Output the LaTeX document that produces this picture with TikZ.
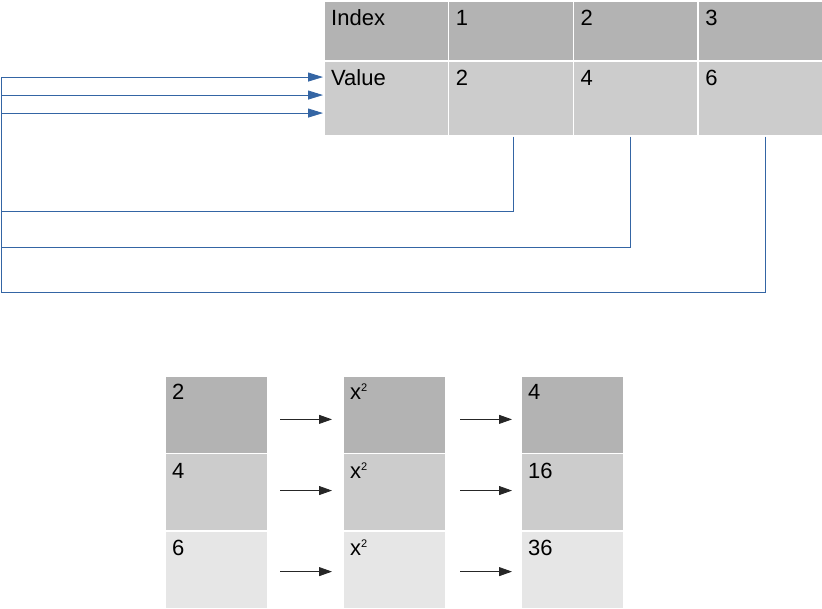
\documentclass[tikz,border=0pt]{standalone}
\usepackage{fontspec}
\setmainfont{Liberation Sans}
\usetikzlibrary{arrows.meta}
\definecolor{darkcell}{HTML}{B3B3B3}
\definecolor{midcell}{HTML}{CCCCCC}
\definecolor{lightcell}{HTML}{E6E6E6}
\definecolor{feedblue}{HTML}{3465A4}
\newcommand{\sqsup}{\textsuperscript{\fontsize{11}{11}\selectfont 2}}
\tikzset{
    cell/.style = {
        rectangle, fill=#1, draw=white, line width=1.5pt, anchor=north west, inner sep=0
    },
    idxrow/.style = {cell=darkcell, minimum width=124.75pt, minimum height=60pt},
    valrow/.style = {cell=midcell, minimum width=124.75pt, minimum height=75pt},
    stack/.style = {cell=#1, minimum width=102.5pt, minimum height=77.67pt},
    txt/.style = {anchor=base west, inner sep=0, font=\fontsize{22}{26}\selectfont},
    feed/.style = {draw=feedblue, line width=0.8pt},
    map/.style = {draw=black!85, line width=0.8pt, -{Triangle[length=13pt,width=9pt]}}
}

\begin{document}
\begin{tikzpicture}[x=1pt, y=-1pt]
    \useasboundingbox (0,0) rectangle (822,608);
    % table
    \node[idxrow] (idx0) at (323,0) {};
    \node[idxrow] (idx1) at (447.75,0) {};
    \node[idxrow] (idx2) at (572.5,0) {};
    \node[idxrow] (idx3) at (697.25,0) {};
    \node[valrow] (val0) at (323,60) {};
    \node[valrow] (val1) at (447.75,60) {};
    \node[valrow] (val2) at (572.5,60) {};
    \node[valrow] (val3) at (697.25,60) {};
    \node[txt] (tidx0) at ([shift={(8,25.5)}]idx0.north west) {Index};
    \node[txt] (tidx1) at ([shift={(8,25.5)}]idx1.north west) {1};
    \node[txt] (tidx2) at ([shift={(8,25.5)}]idx2.north west) {2};
    \node[txt] (tidx3) at ([shift={(8,25.5)}]idx3.north west) {3};
    \node[txt] (tval0) at ([shift={(8,25)}]val0.north west) {Value};
    \node[txt] (tval1) at ([shift={(8,25)}]val1.north west) {2};
    \node[txt] (tval2) at ([shift={(8,25)}]val2.north west) {4};
    \node[txt] (tval3) at ([shift={(8,25)}]val3.north west) {6};

    % values fed back
    \coordinate (back1) at (1,211);
    \coordinate (back2) at (1,247);
    \coordinate (back3) at (1,292);
    \draw[feed, -{Triangle[length=15pt,width=9pt]}] ([xshift=3pt]val1.south) |- (back1) |- ([yshift=21.2pt]val0.west);
    \draw[feed, -{Triangle[length=15pt,width=9pt]}] ([xshift=-5pt]val2.south) |- (back2) |- ([yshift=3.2pt]val0.west);
    \draw[feed, -{Triangle[length=15pt,width=9pt]}] ([xshift=5.4pt]val3.south) |- (back3) |- ([yshift=-14.8pt]val0.west);

    % squaring
    \node[stack=darkcell] (in1) at (164,375) {};
    \node[stack=midcell] (in2) at (164,452.67) {};
    \node[stack=lightcell] (in3) at (164,530.33) {};
    \node[stack=darkcell] (sq1) at (342,375) {};
    \node[stack=midcell] (sq2) at (342,452.67) {};
    \node[stack=lightcell] (sq3) at (342,530.33) {};
    \node[stack=darkcell] (out1) at (520,375) {};
    \node[stack=midcell] (out2) at (520,452.67) {};
    \node[stack=lightcell] (out3) at (520,530.33) {};
    \node[txt] (tin1) at ([shift={(8,24.5)}]in1.north west) {2};
    \node[txt] (tin2) at ([shift={(8,25.5)}]in2.north west) {4};
    \node[txt] (tin3) at ([shift={(8,25)}]in3.north west) {6};
    \node[txt] (tsq1) at ([shift={(8,24.5)}]sq1.north west) {x\sqsup};
    \node[txt] (tsq2) at ([shift={(8,25.5)}]sq2.north west) {x\sqsup};
    \node[txt] (tsq3) at ([shift={(8,25)}]sq3.north west) {x\sqsup};
    \node[txt] (tout1) at ([shift={(8,24.5)}]out1.north west) {4};
    \node[txt] (tout2) at ([shift={(8,25.5)}]out2.north west) {16};
    \node[txt] (tout3) at ([shift={(8,25)}]out3.north west) {36};
    \draw[map] ([shift={(12,4.8)}]in1.east) -- ([shift={(-10,4.8)}]sq1.west);
    \draw[map] ([shift={(12,-1.7)}]in2.east) -- ([shift={(-10,-1.7)}]sq2.west);
    \draw[map] ([shift={(12,1.7)}]in3.east) -- ([shift={(-10,1.7)}]sq3.west);
    \draw[map] ([shift={(14,4.8)}]sq1.east) -- ([shift={(-8,4.8)}]out1.west);
    \draw[map] ([shift={(14,-1.7)}]sq2.east) -- ([shift={(-8,-1.7)}]out2.west);
    \draw[map] ([shift={(14,1.7)}]sq3.east) -- ([shift={(-8,1.7)}]out3.west);
\end{tikzpicture}
\end{document}
